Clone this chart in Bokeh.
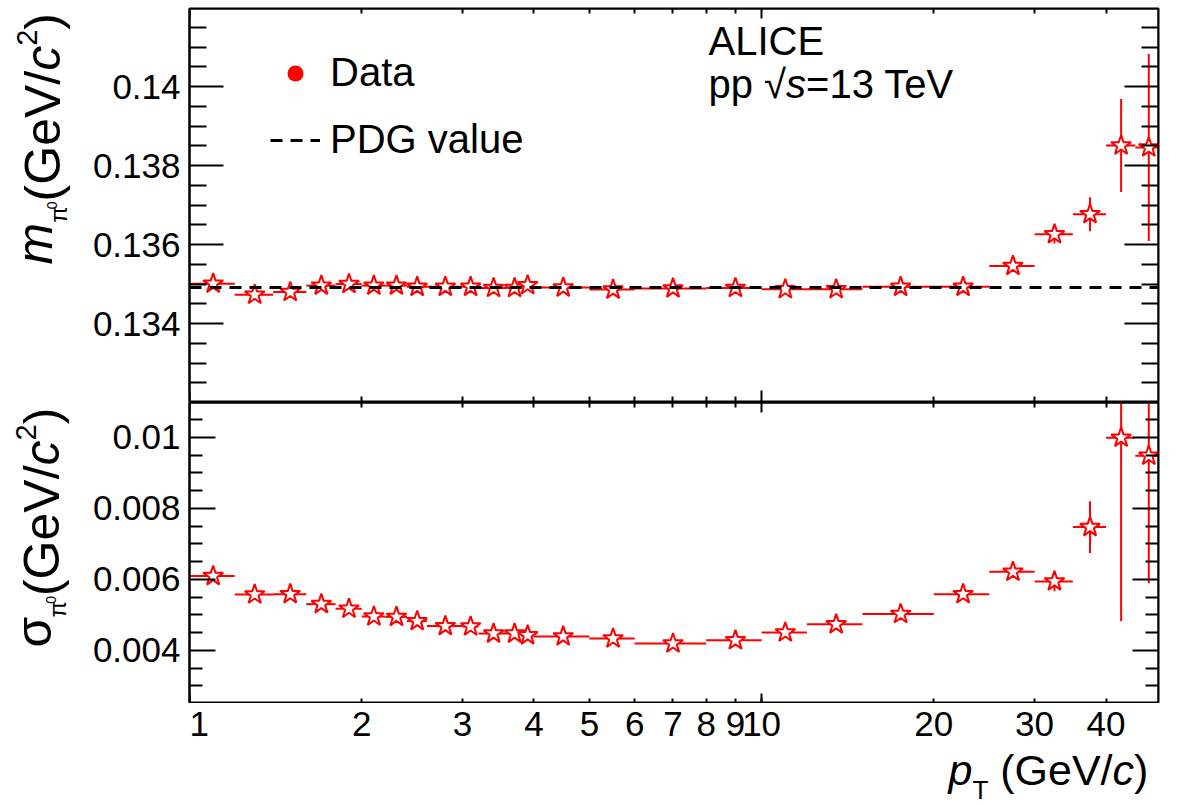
import math

from bokeh.embed import file_html
from bokeh.layouts import column, row
from bokeh.models import (ColumnDataSource, CustomJSTickFormatter, FixedTicker,
                          Label, Legend, LegendItem, LinearAxis, LogAxis, Range1d)
from bokeh.plotting import figure
from bokeh.resources import INLINE

# ---------------------------------------------------------------- data
# pT bins (GeV/c)
pt_center = [1.1, 1.3, 1.5, 1.7, 1.9, 2.1, 2.3, 2.5, 2.8, 3.1, 3.4, 3.7, 3.9,
             4.5, 5.5, 7.0, 9.0, 11.0, 13.5, 17.5, 22.5, 27.5, 32.5, 37.5, 42.5, 47.5]
pt_low = [1.0, 1.2, 1.4, 1.6, 1.8, 2.0, 2.2, 2.4, 2.6, 3.0, 3.2, 3.6, 3.8,
          4.0, 5.0, 6.0, 8.0, 10.0, 12.0, 15.0, 20.0, 25.0, 30.0, 35.0, 40.0, 45.0]
pt_high = [1.2, 1.4, 1.6, 1.8, 2.0, 2.2, 2.4, 2.6, 3.0, 3.2, 3.6, 3.8, 4.0,
           5.0, 6.0, 8.0, 10.0, 12.0, 15.0, 20.0, 25.0, 30.0, 35.0, 40.0, 45.0, 50.0]

# pi0 peak position (GeV/c^2)
mass = [0.13501, 0.13473, 0.13480, 0.13496, 0.13500, 0.13496, 0.13496, 0.13493,
        0.13493, 0.13493, 0.13490, 0.13490, 0.13497, 0.13491, 0.13486, 0.13489,
        0.13490, 0.13487, 0.13487, 0.13493, 0.13493, 0.13546, 0.13626, 0.13677,
        0.13851, 0.13846]
mass_err = [0.00002, 0.00002, 0.00002, 0.00002, 0.00002, 0.00002, 0.00002, 0.00002,
            0.00002, 0.00002, 0.00002, 0.00002, 0.00002, 0.00002, 0.00003, 0.00003,
            0.00004, 0.00004, 0.00005, 0.00006, 0.00007, 0.00012, 0.00023, 0.00043,
            0.00118, 0.00237]

# pi0 peak width (GeV/c^2)
width = [0.00609, 0.00557, 0.00558, 0.00530, 0.00517, 0.00495, 0.00494, 0.00482,
         0.00468, 0.00467, 0.00447, 0.00447, 0.00442, 0.00439, 0.00433, 0.00419,
         0.00428, 0.00450, 0.00473, 0.00502, 0.00558, 0.00621, 0.00594, 0.00747,
         0.00999, 0.00948]
width_err = [0.00003, 0.00002, 0.00002, 0.00002, 0.00002, 0.00002, 0.00002, 0.00002,
             0.00002, 0.00002, 0.00002, 0.00002, 0.00002, 0.00002, 0.00003, 0.00003,
             0.00004, 0.00004, 0.00005, 0.00006, 0.00008, 0.00010, 0.00028, 0.00073,
             0.00517, 0.00359]

pdg_mass = 0.13491

x_tick_values = [1, 2, 3, 4, 5, 6, 7, 8, 9, 10, 20, 30, 40]
x_tick_labels = ["1", "2", "3", "4", "5", "6", "7", "8", "9", "10", "20", "30", "40"]
x_decades = [1, 10]
x_minor = [2, 3, 4, 5, 6, 7, 8, 9, 20, 30, 40]

m_ticks = [0.134, 0.136, 0.138, 0.14]
m_tick_labels = ["0.134", "0.136", "0.138", "0.14"]
s_ticks = [0.004, 0.006, 0.008, 0.01]
s_tick_labels = ["0.004", "0.006", "0.008", "0.01"]

# ---------------------------------------------------------------- layout
FONT = "Liberation Sans"
RED = "#ff0000"
X_START, X_END = 1.0, 49.4
M_START, M_END = 0.132, 0.14198
S_START, S_END = 0.0025, 0.01098

PAGE_H = 805
TITLE_W = 82                      # strip holding the rotated y titles
LEFT = 189                        # page x of the frames' left edge
FRAME_W = 969
RIGHT = 1182 - LEFT - FRAME_W
TOP = 8
TOP_H = 394
BOT_H = 301
XAXIS_H = PAGE_H - TOP - TOP_H - BOT_H   # strip with the pT labels and title
X_LABEL_STANDOFF = 8

TOP_FRAME_BOTTOM = TOP + TOP_H           # page y of the mass panel's lower edge

# Label anchors land this fraction of the font size above the drawn baseline
BASELINE_FIX = 0.37

m_minor = [round(0.1325 + 0.0005 * i, 5) for i in range(20)]
m_minor = [v for v in m_minor if v not in m_ticks and v < M_END]
s_minor = [round(0.003 + 0.0005 * i, 5) for i in range(16)]
s_minor = [v for v in s_minor if v not in s_ticks and v < S_END]

ADV = {' ': 0.278, '(': 0.333, ')': 0.333, 'G': 0.778, 'e': 0.556, 'V': 0.667,
       '/': 0.278, 'c': 0.5, 'm': 0.833, 'p': 0.556, 'T': 0.611, 'π': 0.57,
       'σ': 0.6, 'A': 0.667, 'L': 0.556, 'I': 0.278, 'C': 0.722, 'E': 0.667,
       's': 0.5, '=': 0.584, '√': 0.549, 'a': 0.556, 't': 0.278, 'D': 0.722}


def text_len(s, size):
    return sum(ADV.get(ch, 0.556) for ch in s) * size


def place_runs(fig, frame_left, frame_bottom, x0, y0, runs, vertical=False):
    """Lay out (text, size, style, baseline shift) runs one after another from page point (x0, y0)."""
    pos = 0.0
    for txt, size, style, shift in runs:
        stripped = txt.lstrip(" ")
        pos += (len(txt) - len(stripped)) * ADV[' '] * size
        fix = BASELINE_FIX * size
        if vertical:
            px, py = x0 + shift - fix, y0 - pos
        else:
            px, py = x0 + pos, y0 + shift - fix
        fig.add_layout(Label(x=px - frame_left, y=frame_bottom - py,
                             x_units="screen", y_units="screen",
                             text=stripped, angle=math.pi / 2 if vertical else 0.0,
                             text_font=FONT, text_font_size=f"{size}px",
                             text_font_style=style, text_color="black",
                             text_align="left", text_baseline="alphabetic"))
        pos += text_len(stripped, size)


BLANK = CustomJSTickFormatter(code="return ''")


def style_axis(ax, major_in, minor_in, labelled):
    ax.axis_line_color = "black"
    ax.axis_line_width = 2
    ax.major_tick_in = major_in
    ax.major_tick_out = 0
    ax.minor_tick_in = minor_in
    ax.minor_tick_out = 0
    ax.major_tick_line_color = "black"
    ax.minor_tick_line_color = "black"
    ax.major_tick_line_width = 2
    ax.minor_tick_line_width = 2
    if labelled:
        ax.major_label_text_font = FONT
        ax.major_label_text_font_size = "35px"
        ax.major_label_text_color = "black"
    else:
        ax.formatter = BLANK
        ax.major_label_text_font_size = "0px"
        ax.major_label_standoff = 0


def new_figure(**kw):
    p = figure(toolbar_location=None, output_backend="svg",
               x_axis_location=None, y_axis_location=None,
               background_fill_color="white", border_fill_color="white", **kw)
    p.grid.visible = False
    return p


def make_panel(y0, y1, frame_h, top_border):
    p = new_figure(x_axis_type="log", x_range=Range1d(X_START, X_END), y_range=Range1d(y0, y1),
                   frame_width=FRAME_W, frame_height=frame_h,
                   min_border_left=LEFT - TITLE_W, min_border_right=RIGHT,
                   min_border_top=top_border, min_border_bottom=0)
    p.outline_line_color = "black"
    p.outline_line_width = 2
    return p


def add_y_axes(p, ticks, tick_labels, minor, major_len, minor_len):
    left = LinearAxis(ticker=FixedTicker(ticks=ticks, minor_ticks=minor))
    style_axis(left, major_len, minor_len, True)
    left.major_label_standoff = 9
    left.major_label_overrides = dict(zip(ticks, tick_labels))
    p.add_layout(left, "left")
    right = LinearAxis(ticker=FixedTicker(ticks=ticks, minor_ticks=minor), fixed_location=X_END)
    style_axis(right, major_len, minor_len, False)
    p.add_layout(right, "right")


def add_edge_x_axis(p, side, loc, ticks, minor, major_len, minor_len):
    ax = LogAxis(ticker=FixedTicker(ticks=ticks, minor_ticks=minor), fixed_location=loc)
    style_axis(ax, major_len, minor_len, False)
    p.add_layout(ax, side)


def point_source(values, errors):
    return ColumnDataSource(dict(
        pt=pt_center, lo=pt_low, hi=pt_high, v=values,
        v_lo=[v - e for v, e in zip(values, errors)],
        v_hi=[v + e for v, e in zip(values, errors)]))


def draw_points(p, src):
    p.segment(x0="lo", y0="v", x1="hi", y1="v", source=src, line_color=RED, line_width=2)
    p.segment(x0="pt", y0="v_lo", x1="pt", y1="v_hi", source=src, line_color=RED, line_width=2)
    p.scatter(x="pt", y="v", source=src, marker="star", size=21,
              line_color=RED, line_width=2, fill_color="white")


# ---------------------------------------------------------------- mass panel
p_top = make_panel(M_START, M_END, TOP_H, TOP)
add_y_axes(p_top, m_ticks, m_tick_labels, m_minor, 34, 17)
add_edge_x_axis(p_top, "above", M_END, x_decades, x_minor, 10, 5)
add_edge_x_axis(p_top, "below", M_START, x_decades, x_minor, 12, 6)

mass_src = point_source(mass, mass_err)
draw_points(p_top, mass_src)
pdg = p_top.line(x=[X_START, X_END], y=[pdg_mass, pdg_mass], line_color="black",
                 line_width=3, line_dash="12 8")
# zero-size markers: only their legend swatch (a filled red dot) is visible
data_key = p_top.scatter(x="pt", y="v", source=mass_src, marker="circle", size=0,
                         fill_color=RED, line_alpha=0)

legend = Legend(items=[LegendItem(label="Data", renderers=[data_key]),
                       LegendItem(label="PDG value", renderers=[pdg])],
                location=(81, 240), orientation="vertical",
                glyph_width=50, glyph_height=40, label_height=40, label_standoff=10,
                spacing=22, padding=0, margin=0,
                border_line_alpha=0, background_fill_alpha=0,
                label_text_font=FONT, label_text_font_size="40px", label_text_color="black")
p_top.add_layout(legend)

place_runs(p_top, LEFT, TOP_FRAME_BOTTOM, 708, 55, [("ALICE", 40, "normal", 0)])
place_runs(p_top, LEFT, TOP_FRAME_BOTTOM, 708, 98,
           [("pp", 40, "normal", 0), (" √", 40, "normal", 0),
            ("s", 40, "italic", 0), ("=13 TeV", 40, "normal", 0)])

# ---------------------------------------------------------------- width panel
p_bot = make_panel(S_START, S_END, BOT_H, 0)
add_y_axes(p_bot, s_ticks, s_tick_labels, s_minor, 26, 13)
add_edge_x_axis(p_bot, "above", S_END, x_decades, x_minor, 10, 5)
add_edge_x_axis(p_bot, "below", S_START, x_tick_values, [], 5, 0)
add_edge_x_axis(p_bot, "below", S_START, x_decades, [], 10, 0)

draw_points(p_bot, point_source(width, width_err))

# ---------------------------------------------------------------- pT labels and title
x_strip = new_figure(x_axis_type="log", x_range=Range1d(X_START, X_END), y_range=Range1d(0, 1),
                     frame_width=FRAME_W, frame_height=XAXIS_H,
                     min_border_left=LEFT - TITLE_W, min_border_right=RIGHT,
                     min_border_top=0, min_border_bottom=0)
x_strip.outline_line_color = None
# the label at the range start sits on the frame edge, so it is left-aligned there
inner_values = x_tick_values[1:]
xlab = LogAxis(ticker=FixedTicker(ticks=inner_values, minor_ticks=[]), fixed_location=1)
style_axis(xlab, 0, 0, True)
xlab.axis_line_color = None
xlab.major_label_standoff = X_LABEL_STANDOFF
xlab.major_label_overrides = dict(zip(inner_values, x_tick_labels[1:]))
x_strip.add_layout(xlab, "below")
x_strip.add_layout(Label(x=x_tick_values[0], y=XAXIS_H - X_LABEL_STANDOFF,
                         x_units="data", y_units="screen", text=x_tick_labels[0],
                         text_font=FONT, text_font_size="35px", text_color="black",
                         text_align="left", text_baseline="top"))
place_runs(x_strip, LEFT, PAGE_H, 948, 785,
           [("p", 43, "italic", 0), ("T", 26, "normal", 14), (" (GeV/", 43, "normal", 0),
            ("c", 43, "italic", 0), (")", 43, "normal", 0)])

# ---------------------------------------------------------------- y titles
y_strip = new_figure(width=TITLE_W, height=PAGE_H, x_range=Range1d(0, 1), y_range=Range1d(0, 1),
                     min_border_left=0, min_border_right=0, min_border_top=0, min_border_bottom=0)
y_strip.outline_line_color = None
place_runs(y_strip, 0, PAGE_H, 53, 264,
           [("m", 50, "italic", 0), ("π", 24, "normal", 14), ("0", 14, "normal", 4),
            ("(GeV/", 50, "normal", 8), ("c", 50, "italic", 8), ("2", 29, "normal", -16),
            (")", 50, "normal", 8)], vertical=True)
place_runs(y_strip, 0, PAGE_H, 52, 647,
           [("σ", 50, "normal", 0), ("π", 24, "normal", 14), ("0", 14, "normal", 4),
            ("(GeV/", 50, "normal", 8), ("c", 50, "italic", 8), ("2", 29, "normal", -16),
            (")", 50, "normal", 8)], vertical=True)

layout = row(y_strip, column(p_top, p_bot, x_strip, spacing=0), spacing=0)
open("out.html", "w").write(file_html(layout, INLINE))
